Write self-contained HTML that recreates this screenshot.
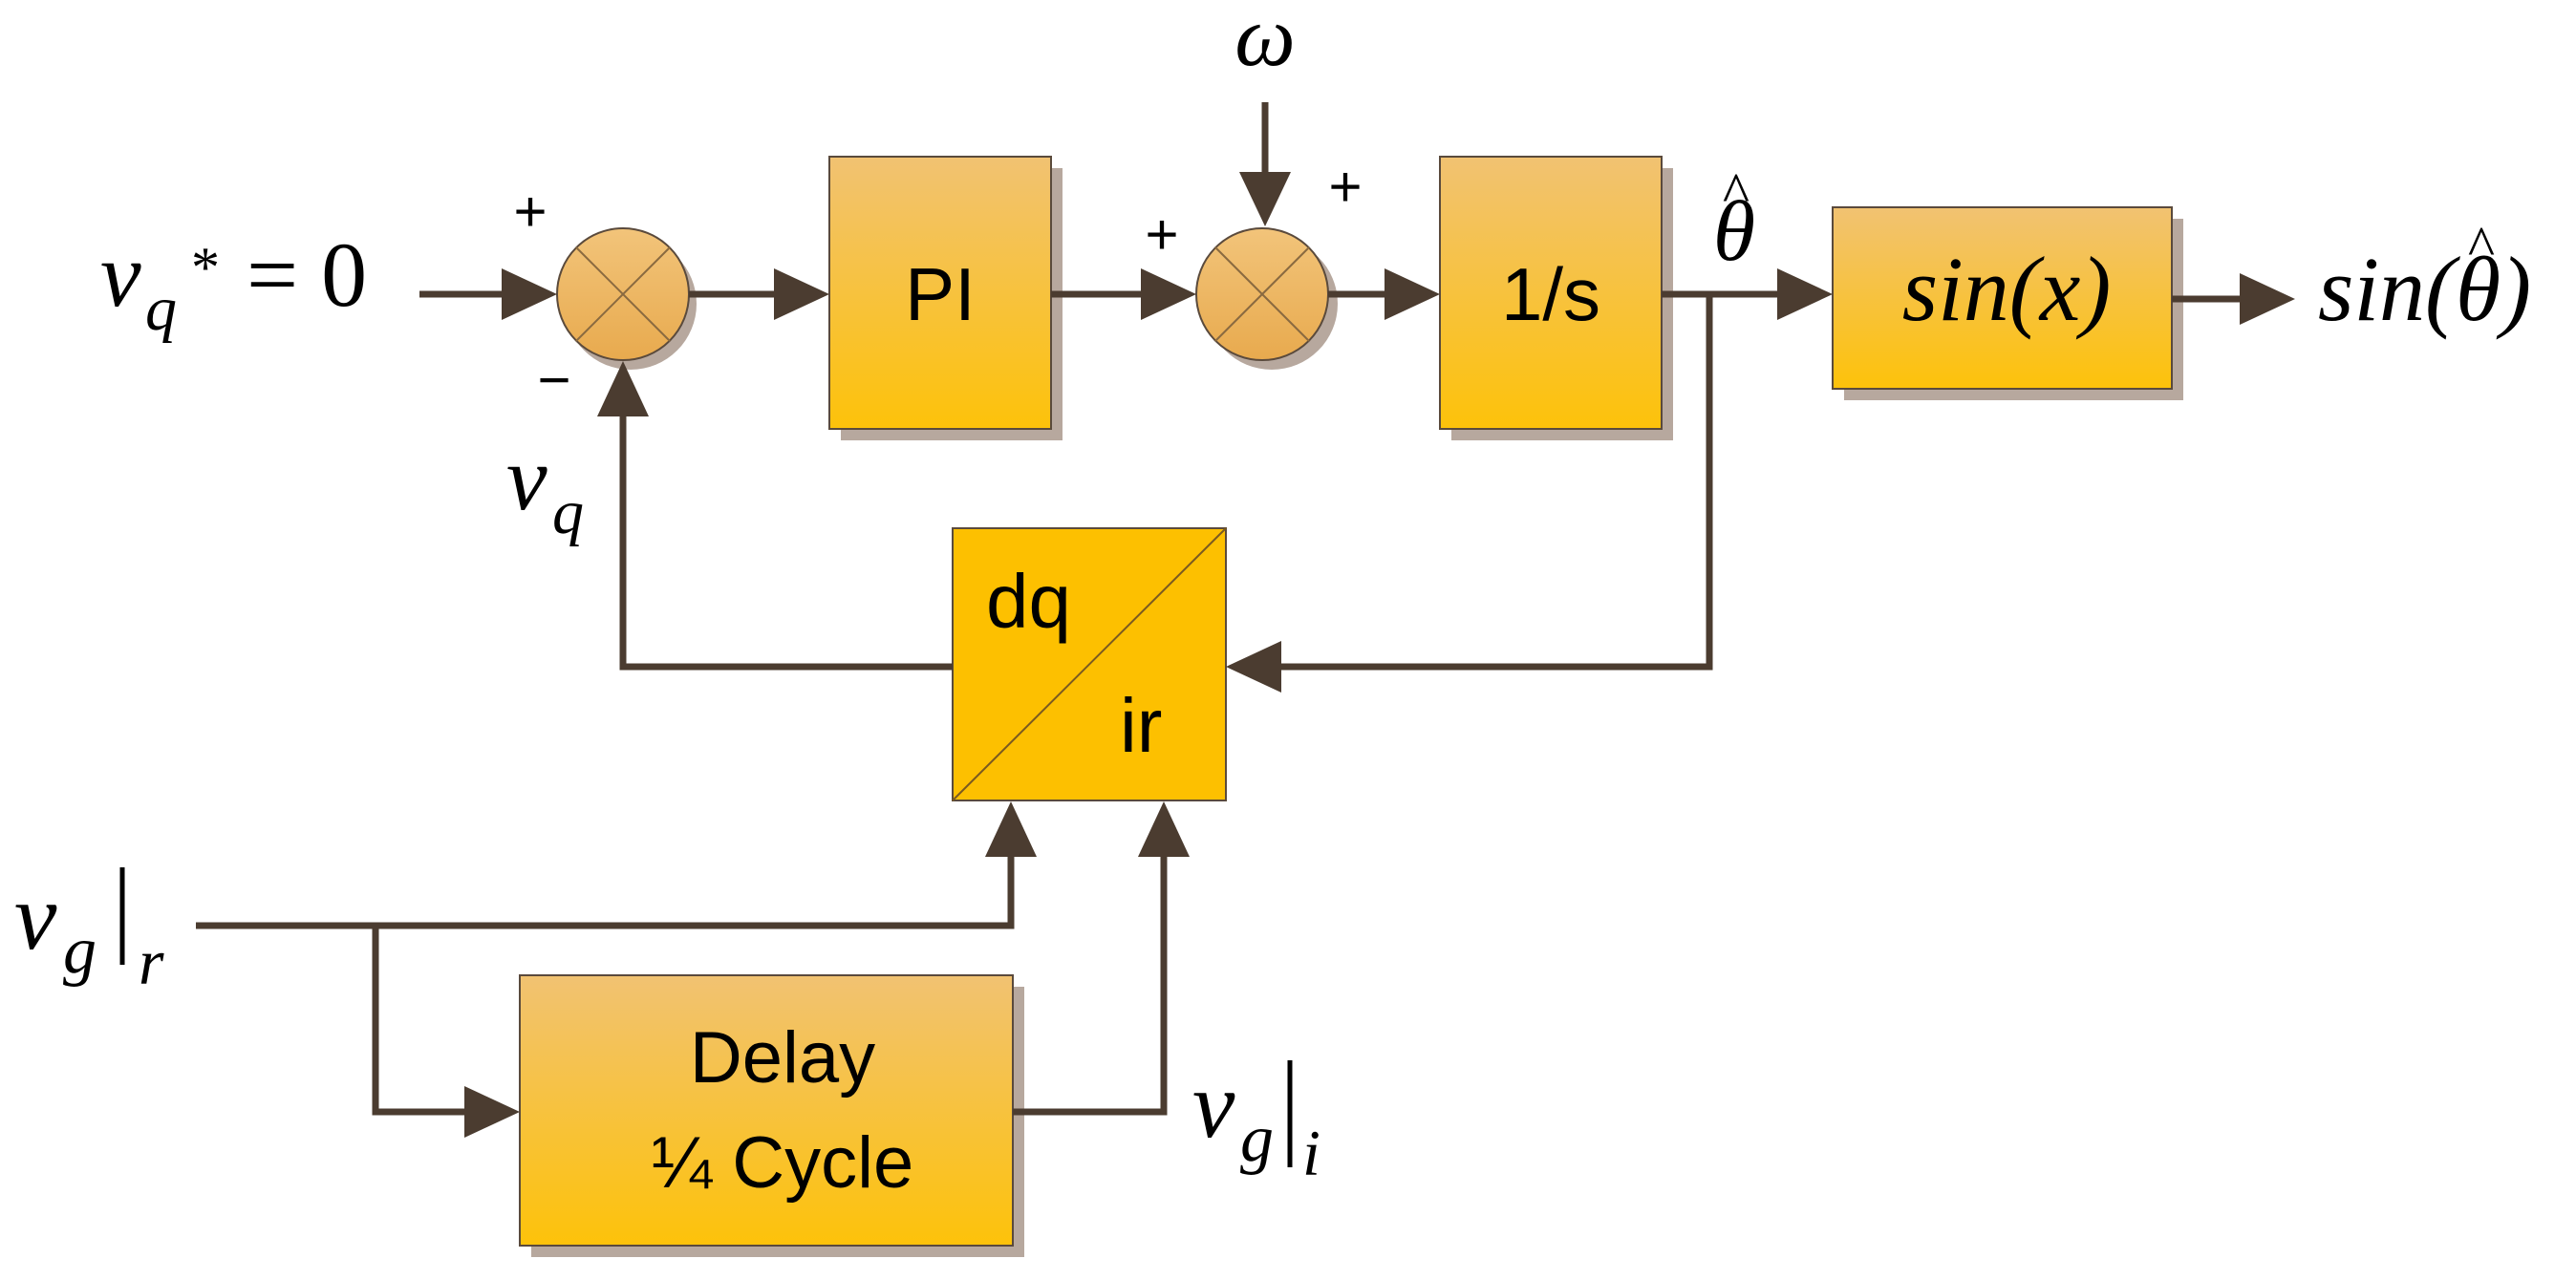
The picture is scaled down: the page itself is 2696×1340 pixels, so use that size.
<!DOCTYPE html>
<html><head><meta charset="utf-8"><style>
html,body{margin:0;padding:0;background:#fff;}
svg{display:block;}
.m{font-family:"Liberation Serif",serif;font-style:italic;fill:#000;}
.s{font-family:"Liberation Sans",sans-serif;fill:#000;}
</style></head><body>
<svg width="2696" height="1340" viewBox="0 0 2696 1340" xmlns="http://www.w3.org/2000/svg">
<defs>
<linearGradient id="g" x1="0" y1="0" x2="0" y2="1"><stop offset="0" stop-color="#f1c272"/><stop offset="1" stop-color="#fdc20a"/></linearGradient>
<linearGradient id="gc" x1="0" y1="0" x2="0" y2="1"><stop offset="0" stop-color="#f2c47a"/><stop offset="1" stop-color="#e8aa4e"/></linearGradient>
</defs>
<g fill="#b7a89e">
<rect x="880" y="176" width="232" height="285"/>
<rect x="1519" y="176" width="232" height="285"/>
<rect x="1930" y="229" width="355" height="190"/>
<rect x="556" y="1033" width="516" height="283"/>
<circle cx="660" cy="318" r="69"/>
<circle cx="1331" cy="318" r="69"/>
</g>
<g stroke="#5a4a3c" stroke-width="2">
<rect x="868" y="164" width="232" height="285" fill="url(#g)"/>
<rect x="1507" y="164" width="232" height="285" fill="url(#g)"/>
<rect x="1918" y="217" width="355" height="190" fill="url(#g)"/>
<rect x="544" y="1021" width="516" height="283" fill="url(#g)"/>
<rect x="997" y="553" width="286" height="285" fill="#fdc000"/>
<line x1="997" y1="838" x2="1283" y2="553" stroke="#7a5a20"/>
<circle cx="652" cy="308" r="69" fill="url(#gc)"/>
<circle cx="1321" cy="308" r="69" fill="url(#gc)"/>
</g>
<g stroke="#8a6a40" stroke-width="2">
<line x1="603" y1="259" x2="701" y2="357"/><line x1="701" y1="259" x2="603" y2="357"/>
<line x1="1272" y1="259" x2="1370" y2="357"/><line x1="1370" y1="259" x2="1272" y2="357"/>
</g>
<g stroke="#4b3c30" stroke-width="7" fill="none" stroke-linejoin="miter">
<line x1="439" y1="308" x2="530" y2="308"/>
<line x1="721" y1="308" x2="815" y2="308"/>
<line x1="1100" y1="308" x2="1205" y2="308"/>
<line x1="1324" y1="107" x2="1324" y2="185"/>
<line x1="1390" y1="308" x2="1455" y2="308"/>
<line x1="1739" y1="308" x2="1865" y2="308"/>
<line x1="2273" y1="313" x2="2350" y2="313"/>
<polyline points="1789,308 1789,698 1335,698"/>
<polyline points="997,698 652,698 652,430"/>
<polyline points="205,969 1058,969 1058,890"/>
<polyline points="393,969 393,1164 490,1164"/>
<polyline points="1060,1164 1218,1164 1218,890"/>
</g>
<g fill="#4b3c30">
<polygon points="583,308 525,281 525,335"/>
<polygon points="868,308 810,281 810,335"/>
<polygon points="1252,308 1194,281 1194,335"/>
<polygon points="1324,237 1297,180 1351,180"/>
<polygon points="1507,308 1449,281 1449,335"/>
<polygon points="1918,308 1860,281 1860,335"/>
<polygon points="2402,313 2344,286 2344,340"/>
<polygon points="1283,698 1341,671 1341,725"/>
<polygon points="652,378 625,436 679,436"/>
<polygon points="1058,839 1031,897 1085,897"/>
<polygon points="1218,839 1191,897 1245,897"/>
<polygon points="544,1164 486,1137 486,1191"/>
</g>
<g class="s">
<text x="984" y="335" font-size="78" text-anchor="middle">PI</text>
<text x="1623" y="335" font-size="78" text-anchor="middle">1/s</text>
<text x="1032" y="657" font-size="80">dq</text>
<text x="1172" y="787" font-size="80">ir</text>
<text x="819" y="1133" font-size="76" text-anchor="middle">Delay</text>
<text x="819" y="1243" font-size="76" text-anchor="middle">¼ Cycle</text>
<text x="555" y="242" font-size="60" text-anchor="middle">+</text>
<text x="580" y="418" font-size="60" text-anchor="middle">−</text>
<text x="1216" y="266" font-size="60" text-anchor="middle">+</text>
<text x="1408" y="216" font-size="60" text-anchor="middle">+</text>
</g>
<g class="m">
<text x="105" y="320" font-size="96">v</text>
<text x="152" y="345" font-size="66">q</text>
<text x="200" y="300" font-size="60" font-style="normal">*</text>
<text x="258" y="320" font-size="96" font-style="normal">= 0</text>
<text x="530" y="533" font-size="96">v</text>
<text x="578" y="558" font-size="66">q</text>
<text x="1324" y="68" font-size="90" text-anchor="middle">ω</text>
<text x="1815" y="272" font-size="90" text-anchor="middle">θ</text>
<text x="1817" y="222" font-size="60" text-anchor="middle" font-style="normal">^</text>
<text x="2100" y="335" font-size="96" text-anchor="middle">sin(x)</text>
<text x="2426" y="335" font-size="96">sin(θ)</text>
<text x="2597" y="278" font-size="60" text-anchor="middle" font-style="normal">^</text>
<text x="15" y="993" font-size="100">v</text>
<text x="66" y="1018" font-size="70">g</text>
<text x="145" y="1030" font-size="68">r</text>
<text x="1248" y="1190" font-size="100">v</text>
<text x="1298" y="1215" font-size="70">g</text>
<text x="1363" y="1230" font-size="68">i</text>
</g>
<g stroke="#000" stroke-width="5">
<line x1="128" y1="908" x2="128" y2="1010"/>
<line x1="1350" y1="1110" x2="1350" y2="1222"/>
</g>
</svg>
</body></html>
